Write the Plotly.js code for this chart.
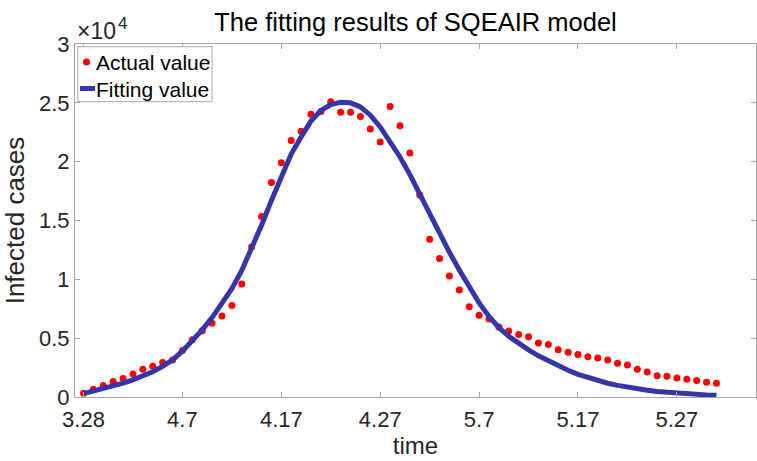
<!DOCTYPE html>
<html>
<head>
<meta charset="utf-8">
<script src="https://cdn.plot.ly/plotly-3.0.1.min.js"></script>
<style>
  html, body { margin: 0; padding: 0; background: #ffffff; }
  #chart { width: 757px; height: 461px; }
</style>
</head>
<body>
<div id="chart"></div>
<script>
// Daily observations, 28 March to 31 May
const startDate = '2022-03-28';
const dayCount = 65;

// Reported infected cases per day
const actualCases = [
  320, 650, 986, 1310, 1570, 1965, 2360, 2615, 2930, 3140,
  3950, 4870, 5640, 6260, 6890, 7780, 9600, 12750, 15340, 18220,
  19910, 21800, 22580, 24030, 24260, 25090, 24190, 24190, 23840, 22770,
  21670, 24680, 23050, 20740, 17170, 13400, 11760, 10290, 9100, 7680,
  6940, 6620, 5950, 5600, 5320, 5120, 4590, 4470, 4020, 3800,
  3620, 3430, 3310, 3150, 2860, 2720, 2360, 2125, 1810, 1755,
  1615, 1515, 1400, 1260, 1175
];

// SQEAIR model output for the same days
const fittedCases = [
  280, 480, 690, 920, 1180, 1460, 1780, 2150, 2600, 3150,
  3900, 4750, 5700, 6750, 7900, 9200, 10750, 12550, 14600, 16700,
  18700, 20650, 22100, 23450, 24350, 24850, 25050, 25000, 24650, 23950,
  22950, 21750, 20400, 18900, 17200, 15500, 13900, 12300, 10800, 9350,
  8000, 6850, 5900, 5150, 4550, 4000, 3500, 3050, 2650, 2270,
  1930, 1640, 1390, 1170, 990, 830, 690, 575, 475, 395,
  330, 270, 220, 180, 150
];

// Axis ticks
const xTickDates = ['2022-03-28', '2022-04-07', '2022-04-17', '2022-04-27', '2022-05-07', '2022-05-17', '2022-05-27'];
const xTickLabels = ['3.28', '4.7', '4.17', '4.27', '5.7', '5.17', '5.27'];
const yTickValues = [0, 5000, 10000, 15000, 20000, 25000, 30000];
const yTickLabels = ['0', '0.5', '1', '1.5', '2', '2.5', '3'];

// Legend entries
const legendNames = ['Actual value', 'Fitting value'];

// Calendar dates for each day of the series
function buildDates(start, n) {
  const out = [];
  const base = new Date(start + 'T00:00:00Z');
  for (let i = 0; i < n; i++) {
    const d = new Date(base.getTime() + i * 86400000);
    out.push(d.toISOString().slice(0, 10));
  }
  return out;
}
const days = buildDates(startDate, dayCount);

const FONT = 'Liberation Sans, Arial, Helvetica, sans-serif';
const AXIS_GREY = '#a8a8a8';
const TEXT_DARK = '#262626';
const DOT_RED = '#ff0000';
const LINE_BLUE = '#3535a8';

const W = 757, H = 461;
const M = { l: 74.5, r: 1, t: 44, b: 64 };
const plotW = W - M.l - M.r;
const plotH = H - M.t - M.b;

// Pixel position inside the figure -> paper coordinates
const px = (x) => (x - M.l) / plotW;
const py = (y) => 1 - (y - M.t) / plotH;

const traces = [
  {
    x: days,
    y: actualCases,
    type: 'scatter',
    mode: 'markers',
    name: legendNames[0],
    showlegend: false,
    marker: { color: DOT_RED, size: 7 }
  },
  {
    x: days,
    y: fittedCases,
    type: 'scatter',
    mode: 'lines',
    name: legendNames[1],
    showlegend: false,
    line: { color: LINE_BLUE, width: 5 }
  }
];

// Compact boxed legend in the upper-left corner of the axes
const legendShapes = [
  { type: 'rect', xref: 'paper', yref: 'paper',
    x0: px(77.3), x1: px(211.7), y0: py(101.7), y1: py(46.7),
    line: { color: AXIS_GREY, width: 1 }, fillcolor: '#ffffff', layer: 'above' },
  { type: 'circle', xref: 'paper', yref: 'paper',
    x0: px(82.5), x1: px(89.5), y0: py(65.5), y1: py(58.5),
    line: { width: 0 }, fillcolor: DOT_RED, layer: 'above' },
  { type: 'line', xref: 'paper', yref: 'paper',
    x0: px(79.5), x1: px(94.5), y0: py(88.5), y1: py(88.5),
    line: { color: LINE_BLUE, width: 5 }, layer: 'above' }
];

const legendLabels = legendNames.map((name, i) => ({
  text: name,
  xref: 'paper', yref: 'paper',
  x: px(94), y: py(i === 0 ? 62 : 89),
  xanchor: 'left', yanchor: 'middle',
  showarrow: false,
  font: { family: FONT, size: 21, color: '#000000' }
}));

// Exponent marker for the y-axis scale
const exponentLabels = [
  { text: '×10', xref: 'paper', yref: 'paper',
    x: px(75), y: py(30.5), xanchor: 'left', yanchor: 'middle',
    showarrow: false, font: { family: FONT, size: 23, color: TEXT_DARK } },
  { text: '4', xref: 'paper', yref: 'paper',
    x: px(116), y: py(23.5), xanchor: 'left', yanchor: 'middle',
    showarrow: false, font: { family: FONT, size: 17, color: TEXT_DARK } }
];

const layout = {
  width: W,
  height: H,
  margin: M,
  paper_bgcolor: '#ffffff',
  plot_bgcolor: '#ffffff',
  font: { family: FONT, color: TEXT_DARK },
  showlegend: false,
  title: {
    text: 'The fitting results of SQEAIR model',
    font: { family: FONT, size: 25.5, color: '#000000' },
    x: 0.5, xref: 'paper', xanchor: 'center',
    y: 1 - 22 / H, yref: 'container', yanchor: 'middle'
  },
  xaxis: {
    type: 'date',
    range: ['2022-03-27 03:20', '2022-06-04 00:00'],
    tickmode: 'array',
    tickvals: xTickDates,
    ticktext: xTickLabels,
    ticks: 'inside',
    ticklen: 5,
    tickcolor: AXIS_GREY,
    ticklabelstandoff: 3,
    tickfont: { family: FONT, size: 22, color: TEXT_DARK },
    showline: true,
    linecolor: AXIS_GREY,
    linewidth: 1,
    mirror: 'allticks',
    showgrid: false,
    zeroline: false,
    title: { text: 'time', font: { family: FONT, size: 24, color: TEXT_DARK }, standoff: 2 }
  },
  yaxis: {
    range: [0, 30000],
    tickmode: 'array',
    tickvals: yTickValues,
    ticktext: yTickLabels,
    ticks: 'inside',
    ticklen: 5,
    tickcolor: AXIS_GREY,
    tickfont: { family: FONT, size: 22, color: TEXT_DARK },
    showline: true,
    linecolor: AXIS_GREY,
    linewidth: 1,
    mirror: 'allticks',
    showgrid: false,
    zeroline: false,
    title: { text: 'Infected cases', font: { family: FONT, size: 26, color: TEXT_DARK }, standoff: 9 }
  },
  shapes: legendShapes,
  annotations: exponentLabels.concat(legendLabels)
};

Plotly.newPlot('chart', traces, layout, { displayModeBar: false, staticPlot: true });
</script>
</body>
</html>
